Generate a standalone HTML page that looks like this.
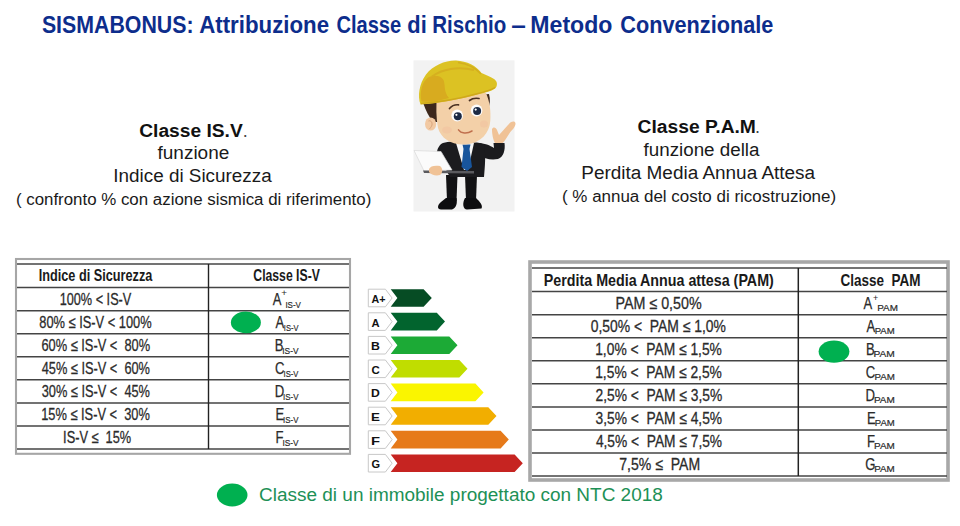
<!DOCTYPE html>
<html><head><meta charset="utf-8"><style>
html,body{margin:0;padding:0;background:#fff;width:960px;height:526px;overflow:hidden}
svg{display:block}
text{font-family:"Liberation Sans",sans-serif;white-space:pre}
</style></head><body>
<svg width="960" height="526" viewBox="0 0 960 526">
<rect width="960" height="526" fill="#fff"/>
<text x="41.9" y="32.6" font-size="23.8" font-weight="bold" fill="#0d2d8c" textLength="151.7" lengthAdjust="spacingAndGlyphs" >SISMABONUS:</text>
<text x="199.2" y="32.6" font-size="23.8" font-weight="bold" fill="#0d2d8c" textLength="129.9" lengthAdjust="spacingAndGlyphs" >Attribuzione</text>
<text x="336.4" y="32.6" font-size="23.8" font-weight="bold" fill="#0d2d8c" textLength="64.8" lengthAdjust="spacingAndGlyphs" >Classe</text>
<text x="407.3" y="32.6" font-size="23.8" font-weight="bold" fill="#0d2d8c" textLength="19.4" lengthAdjust="spacingAndGlyphs" >di</text>
<text x="432.3" y="32.6" font-size="23.8" font-weight="bold" fill="#0d2d8c" textLength="74.0" lengthAdjust="spacingAndGlyphs" >Rischio</text>
<text x="511.2" y="32.6" font-size="23.8" font-weight="bold" fill="#0d2d8c" textLength="14.6" lengthAdjust="spacingAndGlyphs" >–</text>
<text x="530.3" y="32.6" font-size="23.8" font-weight="bold" fill="#0d2d8c" textLength="82.1" lengthAdjust="spacingAndGlyphs" >Metodo</text>
<text x="620.3" y="32.6" font-size="23.8" font-weight="bold" fill="#0d2d8c" textLength="153.0" lengthAdjust="spacingAndGlyphs" >Convenzionale</text>
<text x="139.2" y="136.9" font-size="18" font-weight="bold" fill="#111" textLength="103.5" lengthAdjust="spacingAndGlyphs" >Classe IS.V</text>
<text x="242.8" y="136.9" font-size="18" font-weight="normal" fill="#444">.</text>
<text x="157.5" y="158.9" font-size="18" font-weight="normal" fill="#1a1a1a" textLength="71.8" lengthAdjust="spacingAndGlyphs" >funzione</text>
<text x="113.3" y="181.8" font-size="18" font-weight="normal" fill="#1a1a1a" textLength="158.4" lengthAdjust="spacingAndGlyphs" >Indice di Sicurezza</text>
<text x="15.9" y="204.6" font-size="16" font-weight="normal" fill="#1a1a1a" textLength="355.4" lengthAdjust="spacingAndGlyphs" >( confronto % con azione sismica di riferimento)</text>
<text x="637.6" y="133.4" font-size="18" font-weight="bold" fill="#111" textLength="118.3" lengthAdjust="spacingAndGlyphs" >Classe P.A.M</text>
<text x="755.0" y="133.4" font-size="18" font-weight="normal" fill="#444">.</text>
<text x="643.5" y="156.0" font-size="18" font-weight="normal" fill="#1a1a1a" textLength="116.0" lengthAdjust="spacingAndGlyphs" >funzione della</text>
<text x="581.3" y="178.8" font-size="18" font-weight="normal" fill="#1a1a1a" textLength="233.8" lengthAdjust="spacingAndGlyphs" >Perdita Media Annua Attesa</text>
<text x="562.0" y="201.6" font-size="16" font-weight="normal" fill="#1a1a1a" textLength="274.1" lengthAdjust="spacingAndGlyphs" >( % annua del costo di ricostruzione)</text>
<rect x="16" y="259" width="334" height="194.8" fill="#fff" stroke="#a6a6a6" stroke-width="2.1"/>
<line x1="17" y1="264" x2="349" y2="264" stroke="#444" stroke-width="1.6"/>
<line x1="17" y1="287.6" x2="349" y2="287.6" stroke="#444" stroke-width="1.5"/>
<line x1="17" y1="310.7" x2="349" y2="310.7" stroke="#444" stroke-width="1.5"/>
<line x1="17" y1="333.7" x2="349" y2="333.7" stroke="#444" stroke-width="1.5"/>
<line x1="17" y1="356.8" x2="349" y2="356.8" stroke="#444" stroke-width="1.5"/>
<line x1="17" y1="379.8" x2="349" y2="379.8" stroke="#444" stroke-width="1.5"/>
<line x1="17" y1="402.9" x2="349" y2="402.9" stroke="#444" stroke-width="1.5"/>
<line x1="17" y1="426.0" x2="349" y2="426.0" stroke="#444" stroke-width="1.5"/>
<line x1="17" y1="449.0" x2="349" y2="449.0" stroke="#444" stroke-width="1.5"/>
<line x1="208.5" y1="264" x2="208.5" y2="449" stroke="#222" stroke-width="1.4"/>
<text x="38.7" y="281.2" font-size="16.4" font-weight="bold" fill="#1a1a1a" textLength="113.7" lengthAdjust="spacingAndGlyphs" >Indice di Sicurezza</text>
<text x="253.3" y="281.2" font-size="16.4" font-weight="bold" fill="#1a1a1a" textLength="66.6" lengthAdjust="spacingAndGlyphs" >Classe IS-V</text>
<text x="59.7" y="304.7" font-size="16.8" font-weight="normal" fill="#2b2b2b" textLength="71.6" lengthAdjust="spacingAndGlyphs" stroke="#2b2b2b" stroke-width="0.3">100% &lt; IS-V</text>
<text x="39.3" y="327.7" font-size="16.8" font-weight="normal" fill="#2b2b2b" textLength="112.4" lengthAdjust="spacingAndGlyphs" stroke="#2b2b2b" stroke-width="0.3">80% ≤ IS-V &lt; 100%</text>
<text x="41.4" y="350.8" font-size="16.8" font-weight="normal" fill="#2b2b2b" textLength="108.7" lengthAdjust="spacingAndGlyphs" stroke="#2b2b2b" stroke-width="0.3">60% ≤ IS-V &lt;  80%</text>
<text x="41.7" y="373.8" font-size="16.8" font-weight="normal" fill="#2b2b2b" textLength="108.3" lengthAdjust="spacingAndGlyphs" stroke="#2b2b2b" stroke-width="0.3">45% ≤ IS-V &lt;  60%</text>
<text x="41.7" y="396.9" font-size="16.8" font-weight="normal" fill="#2b2b2b" textLength="108.3" lengthAdjust="spacingAndGlyphs" stroke="#2b2b2b" stroke-width="0.3">30% ≤ IS-V &lt;  45%</text>
<text x="41.2" y="420.0" font-size="16.8" font-weight="normal" fill="#2b2b2b" textLength="108.7" lengthAdjust="spacingAndGlyphs" stroke="#2b2b2b" stroke-width="0.3">15% ≤ IS-V &lt;  30%</text>
<text x="63.1" y="443.0" font-size="16.8" font-weight="normal" fill="#2b2b2b" textLength="68.1" lengthAdjust="spacingAndGlyphs" stroke="#2b2b2b" stroke-width="0.3">IS-V ≤  15%</text>
<text x="272.8" y="304.5" font-size="16.8" font-weight="normal" fill="#2b2b2b" textLength="8.7" lengthAdjust="spacingAndGlyphs" stroke="#2b2b2b" stroke-width="0.25">A</text>
<text x="285.4" y="307.5" font-size="9.2" font-weight="normal" fill="#2b2b2b" textLength="15.5" lengthAdjust="spacingAndGlyphs" stroke="#2b2b2b" stroke-width="0.2">IS-V</text>
<text x="275.5" y="327.5" font-size="16.8" font-weight="normal" fill="#2b2b2b" textLength="8.7" lengthAdjust="spacingAndGlyphs" stroke="#2b2b2b" stroke-width="0.25">A</text>
<text x="283.8" y="330.5" font-size="9.2" font-weight="normal" fill="#2b2b2b" textLength="14.6" lengthAdjust="spacingAndGlyphs" stroke="#2b2b2b" stroke-width="0.2">IS-V</text>
<text x="274.7" y="350.6" font-size="16.8" font-weight="normal" fill="#2b2b2b" textLength="8.7" lengthAdjust="spacingAndGlyphs" stroke="#2b2b2b" stroke-width="0.25">B</text>
<text x="282.3" y="353.6" font-size="9.2" font-weight="normal" fill="#2b2b2b" textLength="16.2" lengthAdjust="spacingAndGlyphs" stroke="#2b2b2b" stroke-width="0.2">IS-V</text>
<text x="275.0" y="373.6" font-size="16.8" font-weight="normal" fill="#2b2b2b" textLength="9.5" lengthAdjust="spacingAndGlyphs" stroke="#2b2b2b" stroke-width="0.25">C</text>
<text x="283.6" y="376.6" font-size="9.2" font-weight="normal" fill="#2b2b2b" textLength="14.8" lengthAdjust="spacingAndGlyphs" stroke="#2b2b2b" stroke-width="0.2">IS-V</text>
<text x="274.7" y="396.7" font-size="16.8" font-weight="normal" fill="#2b2b2b" textLength="9.5" lengthAdjust="spacingAndGlyphs" stroke="#2b2b2b" stroke-width="0.25">D</text>
<text x="283.1" y="399.7" font-size="9.2" font-weight="normal" fill="#2b2b2b" textLength="15.4" lengthAdjust="spacingAndGlyphs" stroke="#2b2b2b" stroke-width="0.2">IS-V</text>
<text x="275.4" y="419.8" font-size="16.8" font-weight="normal" fill="#2b2b2b" textLength="8.7" lengthAdjust="spacingAndGlyphs" stroke="#2b2b2b" stroke-width="0.25">E</text>
<text x="283.1" y="422.8" font-size="9.2" font-weight="normal" fill="#2b2b2b" textLength="15.3" lengthAdjust="spacingAndGlyphs" stroke="#2b2b2b" stroke-width="0.2">IS-V</text>
<text x="275.4" y="442.8" font-size="16.8" font-weight="normal" fill="#2b2b2b" textLength="8.0" lengthAdjust="spacingAndGlyphs" stroke="#2b2b2b" stroke-width="0.25">F</text>
<text x="282.4" y="445.8" font-size="9.2" font-weight="normal" fill="#2b2b2b" textLength="16.1" lengthAdjust="spacingAndGlyphs" stroke="#2b2b2b" stroke-width="0.2">IS-V</text>
<text x="281.3" y="296.0" font-size="9" font-weight="normal" fill="#2b2b2b" textLength="5.8" lengthAdjust="spacingAndGlyphs" >+</text>
<rect x="530" y="262" width="418" height="218" fill="#fff" stroke="#a8a8a8" stroke-width="3.6"/>
<line x1="532" y1="268" x2="947" y2="268" stroke="#444" stroke-width="1.6"/>
<line x1="532" y1="291.6" x2="947" y2="291.6" stroke="#444" stroke-width="1.5"/>
<line x1="532" y1="314.7" x2="947" y2="314.7" stroke="#444" stroke-width="1.5"/>
<line x1="532" y1="337.7" x2="947" y2="337.7" stroke="#444" stroke-width="1.5"/>
<line x1="532" y1="360.8" x2="947" y2="360.8" stroke="#444" stroke-width="1.5"/>
<line x1="532" y1="383.8" x2="947" y2="383.8" stroke="#444" stroke-width="1.5"/>
<line x1="532" y1="406.9" x2="947" y2="406.9" stroke="#444" stroke-width="1.5"/>
<line x1="532" y1="430.0" x2="947" y2="430.0" stroke="#444" stroke-width="1.5"/>
<line x1="532" y1="453.0" x2="947" y2="453.0" stroke="#444" stroke-width="1.5"/>
<line x1="532" y1="476.1" x2="947" y2="476.1" stroke="#444" stroke-width="1.5"/>
<line x1="798.3" y1="268" x2="798.3" y2="476" stroke="#222" stroke-width="1.5"/>
<text x="543.8" y="285.5" font-size="16.4" font-weight="bold" fill="#1a1a1a" textLength="230.0" lengthAdjust="spacingAndGlyphs" >Perdita Media Annua attesa (PAM)</text>
<text x="840.5" y="285.5" font-size="16.4" font-weight="bold" fill="#1a1a1a" textLength="80.0" lengthAdjust="spacingAndGlyphs" >Classe  PAM</text>
<text x="615.5" y="308.7" font-size="16.8" font-weight="normal" fill="#2b2b2b" textLength="86.2" lengthAdjust="spacingAndGlyphs" stroke="#2b2b2b" stroke-width="0.3">PAM ≤ 0,50%</text>
<text x="590.7" y="331.7" font-size="16.8" font-weight="normal" fill="#2b2b2b" textLength="135.2" lengthAdjust="spacingAndGlyphs" stroke="#2b2b2b" stroke-width="0.3">0,50% &lt;  PAM ≤ 1,0%</text>
<text x="595.2" y="354.8" font-size="16.8" font-weight="normal" fill="#2b2b2b" textLength="126.7" lengthAdjust="spacingAndGlyphs" stroke="#2b2b2b" stroke-width="0.3">1,0% &lt;  PAM ≤ 1,5%</text>
<text x="595.2" y="377.8" font-size="16.8" font-weight="normal" fill="#2b2b2b" textLength="126.7" lengthAdjust="spacingAndGlyphs" stroke="#2b2b2b" stroke-width="0.3">1,5% &lt;  PAM ≤ 2,5%</text>
<text x="595.5" y="400.9" font-size="16.8" font-weight="normal" fill="#2b2b2b" textLength="126.7" lengthAdjust="spacingAndGlyphs" stroke="#2b2b2b" stroke-width="0.3">2,5% &lt;  PAM ≤ 3,5%</text>
<text x="595.6" y="424.0" font-size="16.8" font-weight="normal" fill="#2b2b2b" textLength="126.5" lengthAdjust="spacingAndGlyphs" stroke="#2b2b2b" stroke-width="0.3">3,5% &lt;  PAM ≤ 4,5%</text>
<text x="595.9" y="447.0" font-size="16.8" font-weight="normal" fill="#2b2b2b" textLength="126.2" lengthAdjust="spacingAndGlyphs" stroke="#2b2b2b" stroke-width="0.3">4,5% &lt;  PAM ≤ 7,5%</text>
<text x="619.3" y="470.1" font-size="16.8" font-weight="normal" fill="#2b2b2b" textLength="80.8" lengthAdjust="spacingAndGlyphs" stroke="#2b2b2b" stroke-width="0.3">7,5% ≤  PAM</text>
<text x="863.6" y="308.7" font-size="16.8" font-weight="normal" fill="#2b2b2b" textLength="8.7" lengthAdjust="spacingAndGlyphs" stroke="#2b2b2b" stroke-width="0.25">A</text>
<text x="877.2" y="311.0" font-size="9.8" font-weight="normal" fill="#2b2b2b" textLength="20.7" lengthAdjust="spacingAndGlyphs" stroke="#2b2b2b" stroke-width="0.2">PAM</text>
<text x="866.4" y="331.7" font-size="16.8" font-weight="normal" fill="#2b2b2b" textLength="8.7" lengthAdjust="spacingAndGlyphs" stroke="#2b2b2b" stroke-width="0.25">A</text>
<text x="874.7" y="334.0" font-size="9.8" font-weight="normal" fill="#2b2b2b" textLength="20.0" lengthAdjust="spacingAndGlyphs" stroke="#2b2b2b" stroke-width="0.2">PAM</text>
<text x="865.9" y="354.8" font-size="16.8" font-weight="normal" fill="#2b2b2b" textLength="8.7" lengthAdjust="spacingAndGlyphs" stroke="#2b2b2b" stroke-width="0.25">B</text>
<text x="873.5" y="357.1" font-size="9.8" font-weight="normal" fill="#2b2b2b" textLength="21.4" lengthAdjust="spacingAndGlyphs" stroke="#2b2b2b" stroke-width="0.2">PAM</text>
<text x="865.8" y="377.8" font-size="16.8" font-weight="normal" fill="#2b2b2b" textLength="9.5" lengthAdjust="spacingAndGlyphs" stroke="#2b2b2b" stroke-width="0.25">C</text>
<text x="874.4" y="380.1" font-size="9.8" font-weight="normal" fill="#2b2b2b" textLength="20.4" lengthAdjust="spacingAndGlyphs" stroke="#2b2b2b" stroke-width="0.2">PAM</text>
<text x="865.5" y="400.9" font-size="16.8" font-weight="normal" fill="#2b2b2b" textLength="9.5" lengthAdjust="spacingAndGlyphs" stroke="#2b2b2b" stroke-width="0.25">D</text>
<text x="873.9" y="403.2" font-size="9.8" font-weight="normal" fill="#2b2b2b" textLength="20.9" lengthAdjust="spacingAndGlyphs" stroke="#2b2b2b" stroke-width="0.2">PAM</text>
<text x="867.0" y="424.0" font-size="16.8" font-weight="normal" fill="#2b2b2b" textLength="8.7" lengthAdjust="spacingAndGlyphs" stroke="#2b2b2b" stroke-width="0.25">E</text>
<text x="874.8" y="426.3" font-size="9.8" font-weight="normal" fill="#2b2b2b" textLength="20.0" lengthAdjust="spacingAndGlyphs" stroke="#2b2b2b" stroke-width="0.2">PAM</text>
<text x="867.0" y="447.0" font-size="16.8" font-weight="normal" fill="#2b2b2b" textLength="8.0" lengthAdjust="spacingAndGlyphs" stroke="#2b2b2b" stroke-width="0.25">F</text>
<text x="874.0" y="449.3" font-size="9.8" font-weight="normal" fill="#2b2b2b" textLength="20.8" lengthAdjust="spacingAndGlyphs" stroke="#2b2b2b" stroke-width="0.2">PAM</text>
<text x="865.3" y="470.1" font-size="16.8" font-weight="normal" fill="#2b2b2b" textLength="10.2" lengthAdjust="spacingAndGlyphs" stroke="#2b2b2b" stroke-width="0.25">G</text>
<text x="874.2" y="472.4" font-size="9.8" font-weight="normal" fill="#2b2b2b" textLength="20.6" lengthAdjust="spacingAndGlyphs" stroke="#2b2b2b" stroke-width="0.2">PAM</text>
<text x="873.0" y="301.0" font-size="9" font-weight="normal" fill="#2b2b2b" textLength="5.2" lengthAdjust="spacingAndGlyphs" >+</text>
<polygon points="368.3,289.2 385.4,289.2 392.1,298.0 385.4,306.8 368.3,306.8" fill="#fff" stroke="#c8c8c8" stroke-width="1"/>
<polygon points="390.7,289.2 423.6,289.2 431.8,298.0 423.6,306.8 390.7,306.8 397.4,298.0" fill="#064c24"/>
<text x="371.6" y="303.0" font-size="11.7" font-weight="bold" fill="#111" textLength="14.0" lengthAdjust="spacingAndGlyphs" >A+</text>
<polygon points="368.3,312.8 385.4,312.8 392.1,321.6 385.4,330.4 368.3,330.4" fill="#fff" stroke="#c8c8c8" stroke-width="1"/>
<polygon points="390.7,312.8 436.8,312.8 445.0,321.6 436.8,330.4 390.7,330.4 397.4,321.6" fill="#02642e"/>
<text x="371.6" y="326.6" font-size="11.7" font-weight="bold" fill="#111" textLength="8.1" lengthAdjust="spacingAndGlyphs" >A</text>
<polygon points="368.3,336.4 385.4,336.4 392.1,345.2 385.4,354.0 368.3,354.0" fill="#fff" stroke="#c8c8c8" stroke-width="1"/>
<polygon points="390.7,336.4 449.3,336.4 457.5,345.2 449.3,354.0 390.7,354.0 397.4,345.2" fill="#1caa36"/>
<text x="371.1" y="350.2" font-size="11.7" font-weight="bold" fill="#111" textLength="8.9" lengthAdjust="spacingAndGlyphs" >B</text>
<polygon points="368.3,360.0 385.4,360.0 392.1,368.8 385.4,377.6 368.3,377.6" fill="#fff" stroke="#c8c8c8" stroke-width="1"/>
<polygon points="390.7,360.0 459.3,360.0 467.5,368.8 459.3,377.6 390.7,377.6 397.4,368.8" fill="#c0dd00"/>
<text x="371.4" y="373.8" font-size="11.7" font-weight="bold" fill="#111" textLength="8.3" lengthAdjust="spacingAndGlyphs" >C</text>
<polygon points="368.3,383.6 385.4,383.6 392.1,392.4 385.4,401.2 368.3,401.2" fill="#fff" stroke="#c8c8c8" stroke-width="1"/>
<polygon points="390.7,383.6 475.4,383.6 483.6,392.4 475.4,401.2 390.7,401.2 397.4,392.4" fill="#faf500"/>
<text x="371.1" y="397.4" font-size="11.7" font-weight="bold" fill="#111" textLength="8.8" lengthAdjust="spacingAndGlyphs" >D</text>
<polygon points="368.3,407.2 385.4,407.2 392.1,416.0 385.4,424.8 368.3,424.8" fill="#fff" stroke="#c8c8c8" stroke-width="1"/>
<polygon points="390.7,407.2 488.3,407.2 496.5,416.0 488.3,424.8 390.7,424.8 397.4,416.0" fill="#f2ae00"/>
<text x="371.0" y="421.0" font-size="11.7" font-weight="bold" fill="#111" textLength="8.9" lengthAdjust="spacingAndGlyphs" >E</text>
<polygon points="368.3,430.8 385.4,430.8 392.1,439.6 385.4,448.4 368.3,448.4" fill="#fff" stroke="#c8c8c8" stroke-width="1"/>
<polygon points="390.7,430.8 500.6,430.8 508.8,439.6 500.6,448.4 390.7,448.4 397.4,439.6" fill="#e67a1a"/>
<text x="370.9" y="444.6" font-size="11.7" font-weight="bold" fill="#111" textLength="9.0" lengthAdjust="spacingAndGlyphs" >F</text>
<polygon points="368.3,454.4 385.4,454.4 392.1,463.2 385.4,472.0 368.3,472.0" fill="#fff" stroke="#c8c8c8" stroke-width="1"/>
<polygon points="390.7,454.4 514.6,454.4 522.8,463.2 514.6,472.0 390.7,472.0 397.4,463.2" fill="#c62421"/>
<text x="371.5" y="468.2" font-size="11.7" font-weight="bold" fill="#111" textLength="8.6" lengthAdjust="spacingAndGlyphs" >G</text>
<ellipse cx="245.9" cy="322.4" rx="15" ry="10.8" fill="#00b050"/>
<ellipse cx="834" cy="351.6" rx="15.4" ry="11.2" fill="#00b050"/>
<ellipse cx="232.2" cy="495" rx="15.3" ry="11.4" fill="#00b050"/>
<text x="259.1" y="501.1" font-size="17.5" font-weight="normal" fill="#1d9056" textLength="403.7" lengthAdjust="spacingAndGlyphs" >Classe di un immobile progettato con NTC 2018</text>
<g id="cartoon">
<rect x="413.5" y="60.3" width="101" height="151.2" fill="#f2f2f2"/>
<!-- raised hand -->
<path d="M492,129 C493,126.5 496,127 497,130 L499,135 L508,125 C511,121 515,120.5 515.5,123.5 C515.5,127 512,130 510,132.5 L504.5,141 C502,144.5 497.5,145 495,143 C493,140 492,134 492,129 Z" fill="#f0c296"/>
<!-- right arm raised -->
<path d="M477,143 C485,143 490,145.5 494,148 L493.5,143 L504.5,143 C505.5,150 503.5,157 498,159 C490,160.5 484,158 479,156 Z" fill="#1b1b1e"/>
<!-- legs -->
<path d="M446,175 L457.5,175 L456.5,201 L447,201 Z" fill="#121214"/>
<path d="M465,175 L477,175 L476,201 L466,201 Z" fill="#121214"/>
<!-- shoes -->
<path d="M446,198 L456.5,198 C457.5,203 456.5,208 452,209.5 L441,209.5 C437,209.5 437,205 441,202 Z" fill="#0d0d0f"/>
<path d="M465,198 L476,198 C480,202 483,205 481.5,208.5 L467,209.5 C463,209.5 462,203 465,198 Z" fill="#0d0d0f"/>
<!-- jacket -->
<path d="M443,143 C448,141.5 455,141.5 458,142.5 L474,142.5 C478,142.5 482,143 484,145 C486,155 485,166 484,177 L450,177 C446,170 441,160 437,152 C437.5,148 440,144 443,143 Z" fill="#1b1b1e"/>
<!-- shirt -->
<path d="M456,143 L474,143 L468,170 L464,170 Z" fill="#f6f6f6"/>
<!-- tie -->
<path d="M462.5,144.5 L470.5,144.5 L469.5,149 L472,167 L467,171 L461.5,167 L463.5,149 Z" fill="#18559c"/>
<!-- laptop screen -->
<path d="M414,150.5 L441,151.5 L452,170 L424,171 Z" fill="#fbfbfb" stroke="#d8d8d8" stroke-width="0.7"/>
<!-- laptop base -->
<path d="M423,170.5 L474,171 L474,173.5 L424,173 Z" fill="#5a5a5e"/>
<!-- holding hand -->
<path d="M429,169 C430,166 435,165 440,166 C443,168 443,173 440,175 C436,176 431,175 429,172 Z" fill="#f0c296"/>
<!-- hair left -->
<path d="M423.5,104 L439,102 L438,122 L433,122 C429,117 426,111 423.5,104 Z" fill="#3d281c"/>
<!-- hair right -->
<path d="M479,95 L489,94 C490.5,99 490,105 488,109 L482,104 Z" fill="#3d281c"/>
<!-- ear -->
<ellipse cx="430.6" cy="124" rx="5.6" ry="6.6" fill="#f2c9a3"/>
<path d="M428.5,121 C430.5,120 432.5,122 432,125 C431.5,127 430,128 429.5,129" stroke="#d9a57d" stroke-width="1" fill="none"/>
<!-- face -->
<path d="M437,96 C450,92 472,90 486,93 C490,102 491,112 490.3,121 C489.5,133 481,143 466,144.5 C451,145.5 441,138 438,128 C436,118 436,106 437,96 Z" fill="#f3d0a8"/>
<ellipse cx="447" cy="130" rx="5" ry="3.5" fill="#f0bb9a" opacity="0.35"/>
<ellipse cx="484" cy="124" rx="4" ry="3.5" fill="#f0bb9a" opacity="0.35"/>
<!-- eyebrows -->
<path d="M449.5,108.5 C452,105.5 455.5,104.5 458.5,104.8" stroke="#4a3022" stroke-width="1.7" fill="none" stroke-linecap="round"/>
<path d="M469.5,100.5 C472,98.5 476,98 479,98.5" stroke="#4a3022" stroke-width="1.7" fill="none" stroke-linecap="round"/>
<!-- eyes -->
<ellipse cx="457.2" cy="115.6" rx="5.8" ry="6" fill="#fdfdfd"/>
<ellipse cx="476.6" cy="110.5" rx="5.8" ry="6" fill="#fdfdfd"/>
<circle cx="457.8" cy="116.2" r="4" fill="#1c2a45"/>
<circle cx="477.1" cy="111" r="4" fill="#1c2a45"/>
<circle cx="456.4" cy="114.8" r="1.1" fill="#fff"/>
<circle cx="475.7" cy="109.6" r="1.1" fill="#fff"/>
<!-- mouth -->
<path d="M458.5,129.8 C461,133.5 467,134 472,131" stroke="#c0704e" stroke-width="1.5" fill="none" stroke-linecap="round"/>
<!-- helmet -->
<path d="M420.5,104.5 C417.5,96 419,84 426,74.5 C433,65.5 445,60.3 456,60.5 C467,61 476.5,66 481.5,73 C486,75 491,77 494,79 C497,81 497.5,84 496.5,86.5 C495.5,89 492.5,90.5 488,91.8 C481,93.8 474,95.5 468,97 C452,100.5 436,103.5 420.5,104.5 Z" fill="#dcc223"/>
<path d="M421.5,101.5 C419.5,92 422,82 428,77.5 C434,74.5 441,75.5 443.5,80 C445.5,85 443.5,92 449,98 C440,100.5 430,102.5 421.5,101.5 Z" fill="#d8ab1f"/>
<path d="M432,76.5 C442,69 458,66 474,70" stroke="#d6b01f" stroke-width="2" fill="none"/>
<path d="M421,103.5 C440,102 460,98.5 476,94 C484,92 491,90 495,87.5" stroke="#cfa81c" stroke-width="1.3" fill="none"/>
<path d="M458,62.5 C468,64 476,68 481,74" stroke="#d3ae1e" stroke-width="1.3" fill="none"/>
</g>
</svg></body></html>
